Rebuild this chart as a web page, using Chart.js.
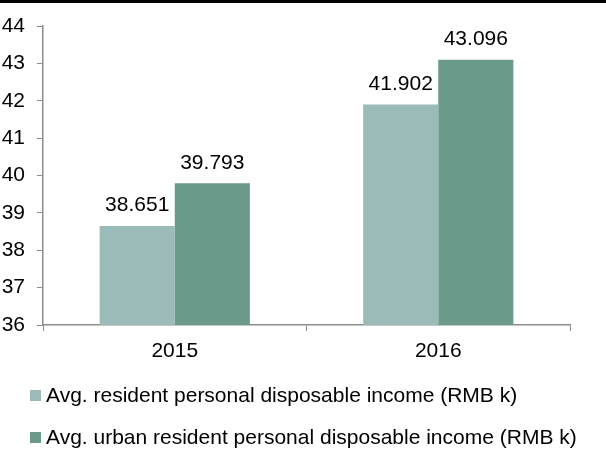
<!DOCTYPE html>
<html>
<head>
<meta charset="utf-8">
<script src="https://cdn.jsdelivr.net/npm/chart.js@4"></script>
<style>
  html, body { margin: 0; padding: 0; background: #fff; }
  #wrap { width: 606px; height: 471px; }
</style>
</head>
<body>
<div id="wrap"><canvas id="myChart" width="606" height="471"></canvas></div>
<script>
var years = ["2015", "2016"];
var residentIncome = [38.651, 41.902];
var urbanIncome = [39.793, 43.096];
var seriesNames = [
  "Avg. resident personal disposable income (RMB k)",
  "Avg. urban resident personal disposable income (RMB k)",
];
var yTicks = [36, 37, 38, 39, 40, 41, 42, 43, 44];

var FONT = "Arial, 'Liberation Sans', sans-serif";
var FONT_SIZE = 21;
var axisGray = "#8c8c8c";

// thin black rule across the top
var topRule = {
  id: "topRule",
  beforeDraw: function (chart) {
    var c = chart.ctx;
    c.save();
    c.fillStyle = "#000";
    c.fillRect(0, 0, chart.width, 3);
    c.restore();
  },
};

// value written above each bar
var barValues = {
  id: "barValues",
  afterDatasetsDraw: function (chart) {
    var c = chart.ctx;
    c.save();
    c.font = FONT_SIZE + "px " + FONT;
    c.fillStyle = "#000";
    c.textAlign = "center";
    c.textBaseline = "bottom";
    chart.data.datasets.forEach(function (ds, i) {
      chart.getDatasetMeta(i).data.forEach(function (bar, j) {
        c.fillText(ds.data[j].toFixed(3), bar.x, bar.y - 10);
      });
    });
    c.restore();
  },
};

// legend as a left aligned list under the axis
var listLegend = {
  id: "listLegend",
  afterDraw: function (chart) {
    var c = chart.ctx;
    c.save();
    c.font = FONT_SIZE + "px " + FONT;
    c.textBaseline = "middle";
    c.textAlign = "left";
    chart.data.datasets.forEach(function (ds, i) {
      var y = 395 + i * 42;
      c.fillStyle = ds.backgroundColor;
      c.fillRect(30, y - 5, 11, 11);
      c.fillStyle = "#000";
      c.fillText(ds.label, 46, y + 1);
    });
    c.restore();
  },
};

var ctx = document.getElementById("myChart").getContext("2d");
var myChart = new Chart(ctx, {
  type: "bar",
  data: {
    labels: years,
    datasets: [
      {
        label: seriesNames[0],
        data: residentIncome,
        backgroundColor: "#9bbbb8",
        categoryPercentage: 0.57,
        barPercentage: 1.0,
      },
      {
        label: seriesNames[1],
        data: urbanIncome,
        backgroundColor: "#699a8a",
        categoryPercentage: 0.57,
        barPercentage: 1.0,
      },
    ],
  },
  options: {
    responsive: false,
    animation: false,
    layout: {
      padding: { top: 26, right: 36, bottom: 106, left: 0 },
    },
    plugins: {
      legend: { display: false },
      tooltip: { enabled: false },
    },
    scales: {
      x: {
        grid: {
          offset: true,
          drawOnChartArea: false,
          color: axisGray,
          tickLength: 6,
        },
        border: { color: axisGray, width: 1.5 },
        ticks: {
          color: "#000",
          font: { size: FONT_SIZE, family: FONT },
          padding: 8,
        },
        afterFit: function (scale) {
          scale.height = 40;
        },
      },
      y: {
        min: 36,
        max: 44,
        afterBuildTicks: function (scale) {
          scale.ticks = yTicks.map(function (v) {
            return { value: v };
          });
        },
        grid: {
          drawOnChartArea: false,
          color: axisGray,
          tickLength: 6,
        },
        border: { color: axisGray, width: 1.5 },
        ticks: {
          color: "#000",
          font: { size: FONT_SIZE, family: FONT },
          padding: 12,
        },
        afterFit: function (scale) {
          scale.width = 43;
        },
      },
    },
  },
  plugins: [topRule, barValues, listLegend],
});
</script>
</body>
</html>
